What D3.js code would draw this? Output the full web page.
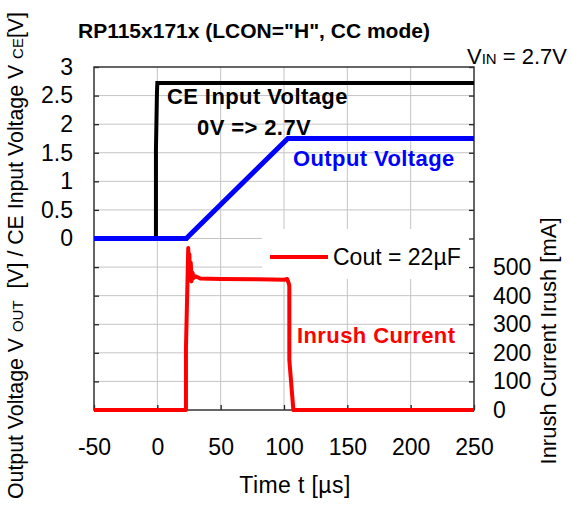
<!DOCTYPE html>
<html>
<head>
<meta charset="utf-8">
<script src="https://cdn.jsdelivr.net/npm/d3@7"></script>
<style>
  html, body { margin: 0; padding: 0; background: #fff; }
  svg { display: block; font-family: "Liberation Sans", Arial, sans-serif; }
  text { white-space: pre; }
</style>
</head>
<body>
<svg id="chart" width="572" height="507"></svg>
<script>
// ---- data ----
const xTicks = [-50, 0, 50, 100, 150, 200, 250];
const leftTicks = [-3, -2.5, -2, -1.5, -1, -0.5, 0, 0.5, 1, 1.5, 2, 2.5, 3];
const rightTicks = [0, 100, 200, 300, 400, 500, 600, 700, 800, 900, 1000, 1100, 1200];

// CE input voltage (black) [us, V]
const ceTime = [-50, -1.1, -1.1, -0.3, 0, 250];
const ceVolt = [0, 0, 1.55, 2.55, 2.72, 2.72];

// Output voltage (blue) [us, V]
const outTime = [-50, 23, 25, 103, 250];
const outVolt = [0, 0, 0.05, 1.75, 1.75];

// Inrush current (red) [us, mA]
const irTime = [-50, 22.6, 22.6, 24.4, 24.8, 25.3, 25.8, 26.4, 27, 27.8, 28.6, 30, 34, 50, 80, 100, 102.5, 103.6, 104.2, 104.2, 107.4, 250];
const irCur  = [0, 0, 217, 567, 500, 545, 455, 515, 450, 480, 462, 468, 460, 458, 457, 456, 458, 445, 435, 175, 0, 0];

// ---- layout ----
const svg = d3.select("#chart");
const L = 94, R = 474, T = 67, B = 410;

const x = d3.scaleLinear().domain([-50, 250]).range([L, R]);
const yL = d3.scaleLinear().domain([-3, 3]).range([B, T]);
const yR = d3.scaleLinear().domain([0, 1200]).range([B, T]);

// gridlines
const grid = svg.append("g").attr("stroke", "#c4c4c4").attr("stroke-width", 1);
grid.selectAll("line.v").data(xTicks.slice(1, -1)).join("line")
  .attr("x1", d => x(d)).attr("x2", d => x(d)).attr("y1", T).attr("y2", B);
grid.selectAll("line.h").data(leftTicks.slice(1, -1)).join("line")
  .attr("x1", L).attr("x2", R).attr("y1", d => yL(d)).attr("y2", d => yL(d));

// legend box (covers the grid)
svg.append("rect").attr("x", 262).attr("y", 229).attr("width", 210).attr("height", 50).attr("fill", "#fff");

// axes
const tickFont = 23;
const axL = d3.axisLeft(yL).tickValues(leftTicks).tickSizeInner(-5).tickSizeOuter(0).tickPadding(21)
  .tickFormat(d => d >= 0 ? String(d) : "");
const gL = svg.append("g").attr("transform", `translate(${L},0)`).call(axL);

const axR = d3.axisRight(yR).tickValues(rightTicks).tickSizeInner(-5).tickSizeOuter(0).tickPadding(19)
  .tickFormat(d => d <= 500 ? String(d) : "");
const gR = svg.append("g").attr("transform", `translate(${R},0)`).call(axR);

const axB = d3.axisBottom(x).tickValues(xTicks).tickSizeInner(-5).tickSizeOuter(0).tickPadding(29)
  .tickFormat(d => String(d));
const gB = svg.append("g").attr("transform", `translate(0,${B})`).call(axB);

[gL, gR, gB].forEach(g => {
  g.select(".domain").remove();
  g.selectAll(".tick line").attr("stroke", "#222").attr("stroke-width", 1.3);
  g.selectAll(".tick text").attr("fill", "#000").style("font-size", tickFont + "px")
    .style("font-family", "'Liberation Sans', Arial, sans-serif");
});

// frame
svg.append("rect").attr("x", L).attr("y", T).attr("width", R - L).attr("height", B - T)
  .attr("fill", "none").attr("stroke", "#333").attr("stroke-width", 1.5);

// lines
const zip = (a, b) => a.map((v, i) => [v, b[i]]);
const lineL = d3.line().x(d => x(d[0])).y(d => yL(d[1]));
const lineR = d3.line().x(d => x(d[0])).y(d => yR(d[1]));

svg.append("path").datum(zip(ceTime, ceVolt)).attr("d", lineL)
  .attr("fill", "none").attr("stroke", "#000").attr("stroke-width", 4);
svg.append("path").datum(zip(irTime, irCur)).attr("d", lineR)
  .attr("fill", "none").attr("stroke", "#ff0000").attr("stroke-width", 4).attr("stroke-linejoin", "round");
svg.append("path").datum(zip(outTime, outVolt)).attr("d", lineL)
  .attr("fill", "none").attr("stroke", "#0000ff").attr("stroke-width", 5);

// legend
svg.append("line").attr("x1", 270).attr("x2", 328).attr("y1", 257).attr("y2", 257)
  .attr("stroke", "#ff0000").attr("stroke-width", 4);
svg.append("text").attr("x", 333).attr("y", 265).style("font-size", "23px").text("Cout = 22µF");

// title
svg.append("text").attr("x", 78).attr("y", 38).style("font-size", "21px").style("font-weight", "bold")
  .text('RP115x171x (LCON="H", CC mode)');

// VIN
const vin = svg.append("text").attr("x", 467).attr("y", 64).style("font-size", "22px");
vin.append("tspan").text("V");
vin.append("tspan").style("font-size", "15px").text("IN");
vin.append("tspan").text(" = 2.7V");

// annotations
const ann = [
  {t: "CE Input Voltage", x: 167, y: 104, c: "#000"},
  {t: "0V => 2.7V", x: 197, y: 135, c: "#000"},
  {t: "Output Voltage", x: 293, y: 166, c: "#0000ff"},
  {t: "Inrush Current", x: 297, y: 343, c: "#ff0000"}
];
svg.selectAll("text.ann").data(ann).join("text").attr("class", "ann")
  .attr("x", d => d.x).attr("y", d => d.y).attr("fill", d => d.c)
  .style("font-size", "22px").style("font-weight", "bold").style("letter-spacing", "0.4px").text(d => d.t);

// x label
svg.append("text").attr("x", 295).attr("y", 493).attr("text-anchor", "middle").style("font-size", "23px")
  .style("letter-spacing", "0.4px").text("Time t [µs]");

// left y label
const yl = svg.append("text").attr("transform", "translate(23,12) rotate(-90)").attr("text-anchor", "end")
  .style("font-size", "21.3px");
yl.append("tspan").text("Output Voltage V ");
yl.append("tspan").style("font-size", "15px").text("OUT");
yl.append("tspan").text("  [V] / CE Input Voltage V ");
yl.append("tspan").style("font-size", "15px").text("CE");
yl.append("tspan").text("[V]");

// right y label
svg.append("text").attr("transform", "translate(556,341) rotate(-90)").attr("text-anchor", "middle")
  .style("font-size", "22px").text("Inrush Current Irush [mA]");
</script>
</body>
</html>
